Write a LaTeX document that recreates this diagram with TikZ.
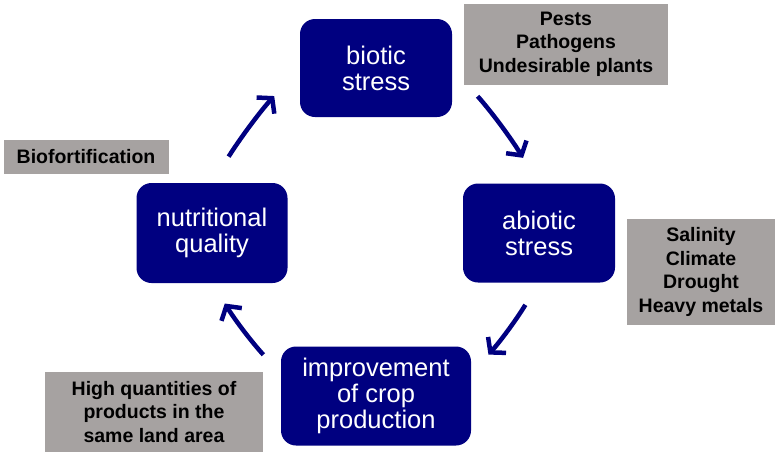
\documentclass[tikz,border=0pt]{standalone}
\usepackage{fontspec}
\setmainfont{Liberation Sans}
\usepackage{tikz}
\usetikzlibrary{positioning,arrows.meta}

\definecolor{cyclenavy}{RGB}{0,0,128}
\definecolor{notegray}{RGB}{166,162,161}

\begin{document}
\begin{tikzpicture}[x=1pt,y=-1pt,
    cyclebox/.style={draw=none,fill=cyclenavy,rounded corners=15pt,text=white,align=center,
        inner sep=0pt,font=\fontsize{25.5}{26}\selectfont},
    notebox/.style={draw=none,fill=notegray,text=black,align=center,inner sep=0pt,
        font=\fontsize{19.5}{23.5}\selectfont\bfseries},
    cyclearrow/.style={draw=cyclenavy,line width=4.5pt,-{Straight Barb[length=10pt,width=24pt]}}]
    \useasboundingbox (0,0) rectangle (776,453);

    % Cycle boxes
    \node[cyclebox,minimum width=152pt,minimum height=98pt] (biotic) at (376,68) {biotic\\stress};
    \node[cyclebox,minimum width=152pt,minimum height=99pt] (abiotic) at (539,233) {abiotic\\stress};
    \node[cyclebox,minimum width=190pt,minimum height=99pt] (crop) at (376,396) {improvement\\of crop\\production};
    \node[cyclebox,minimum width=151pt,minimum height=100pt] (nutri) at (212,233) {nutritional\\quality};

    % Notes
    \node[notebox,minimum width=204pt,minimum height=81pt] (pests) at (566,44) {Pests\\Pathogens\\Undesirable plants};
    \node[notebox,minimum width=148pt,minimum height=106pt] (salinity) at (701,272) {Salinity\\Climate\\Drought\\Heavy metals};
    \node[notebox,minimum width=218pt,minimum height=80pt] (quantity) at (154,412) {High quantities of\\products in the\\same land area};
    \node[notebox,minimum width=165pt,minimum height=34pt] (biofort) at (86,157) {Biofortification};

    % Arrows round the cycle
    \draw[cyclearrow,shorten <=38pt,shorten >=30pt] (biotic.east) to[bend left=5] (abiotic.north);
    \draw[cyclearrow,shorten <=26pt,shorten >=26pt] (abiotic.south) to[bend left=5] (crop.13);
    \draw[cyclearrow,shorten <=26pt,shorten >=24pt] (crop.167) to[bend left=5] (nutri.south);
    \draw[cyclearrow,shorten <=31pt,shorten >=38pt] (nutri.north) to[bend left=5] (biotic.west);
\end{tikzpicture}
\end{document}
